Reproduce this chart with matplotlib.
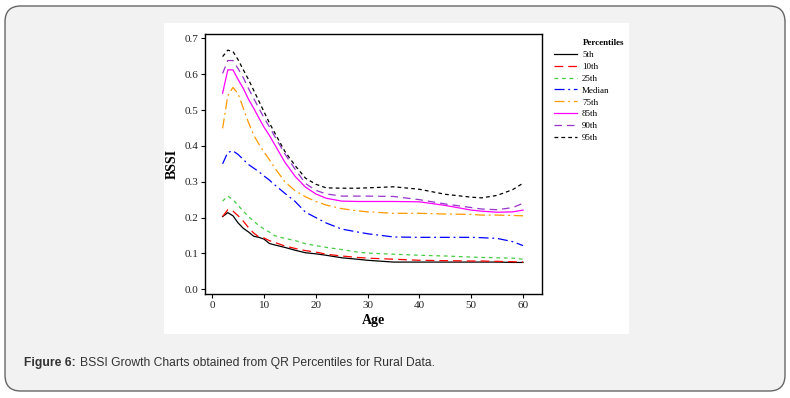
import numpy as np
import matplotlib
matplotlib.use('Agg')
import matplotlib.pyplot as plt
from matplotlib.patches import FancyBboxPatch, Rectangle

# ages
age = [2, 3, 4, 5, 6, 7, 8, 9, 10, 11, 12, 14, 16, 18, 20, 22, 25, 28, 30, 35, 40, 45, 50, 52, 55, 58, 60]

p5 = [0.203, 0.214, 0.205, 0.185, 0.170, 0.160, 0.148, 0.145, 0.140, 0.128, 0.124, 0.117, 0.109, 0.102, 0.099,
      0.095, 0.088, 0.084, 0.081, 0.076, 0.076, 0.076, 0.076, 0.076, 0.076, 0.075, 0.075]
p10 = [0.203, 0.222, 0.218, 0.205, 0.190, 0.172, 0.157, 0.146, 0.143, 0.136, 0.131, 0.121, 0.114, 0.108, 0.104,
       0.098, 0.093, 0.089, 0.087, 0.084, 0.081, 0.080, 0.079, 0.079, 0.078, 0.077, 0.076]
p25 = [0.246, 0.260, 0.250, 0.234, 0.218, 0.203, 0.190, 0.178, 0.168, 0.160, 0.150, 0.142, 0.136, 0.127, 0.122,
       0.117, 0.111, 0.104, 0.101, 0.098, 0.095, 0.093, 0.090, 0.089, 0.088, 0.087, 0.084]
p50 = [0.350, 0.382, 0.386, 0.376, 0.362, 0.348, 0.338, 0.328, 0.316, 0.305, 0.292, 0.268, 0.245, 0.215, 0.200,
       0.185, 0.168, 0.160, 0.155, 0.146, 0.145, 0.145, 0.145, 0.144, 0.142, 0.133, 0.122]
p75 = [0.449, 0.540, 0.563, 0.545, 0.505, 0.465, 0.430, 0.405, 0.383, 0.362, 0.340, 0.300, 0.275, 0.258, 0.245,
       0.235, 0.225, 0.219, 0.216, 0.212, 0.212, 0.210, 0.209, 0.207, 0.207, 0.206, 0.205]
p85 = [0.547, 0.612, 0.612, 0.585, 0.560, 0.530, 0.505, 0.478, 0.452, 0.430, 0.405, 0.355, 0.315, 0.285, 0.266,
       0.254, 0.246, 0.245, 0.245, 0.245, 0.244, 0.234, 0.221, 0.218, 0.215, 0.216, 0.221]
p90 = [0.602, 0.638, 0.638, 0.615, 0.590, 0.560, 0.532, 0.505, 0.478, 0.454, 0.428, 0.378, 0.335, 0.295, 0.276,
       0.266, 0.260, 0.260, 0.260, 0.259, 0.250, 0.238, 0.228, 0.224, 0.222, 0.228, 0.240]
p95 = [0.649, 0.667, 0.663, 0.640, 0.612, 0.585, 0.555, 0.525, 0.495, 0.465, 0.438, 0.385, 0.345, 0.310, 0.293,
       0.283, 0.282, 0.282, 0.283, 0.286, 0.279, 0.265, 0.257, 0.255, 0.262, 0.278, 0.296]

labels = ['5th', '10th', '25th', 'Median', '75th', '85th', '90th', '95th']
series = [p5, p10, p25, p50, p75, p85, p90, p95]
colors = ['black', '#ff0000', '#44cc44', '#0000ff', '#ff9900', '#ff00ff', '#9933cc', 'black']
styles = ['-', (0, (7, 4)), (0, (3, 3)), (0, (8, 3, 1.5, 3)), (0, (8, 3, 1.5, 3)), '-', (0, (6, 4)), (0, (3, 2.5))]

fig = plt.figure(figsize=(7.9, 3.98), dpi=100)
fig.patch.set_facecolor('white')

# page card and white chart panel (behind the axes)
card = FancyBboxPatch((5 / 790, 7 / 398), 780 / 790, 385 / 398,
                      boxstyle='round,pad=0,rounding_size=0.02', transform=fig.transFigure,
                      facecolor='#f2f2f2', edgecolor='#666666', linewidth=1.0, mutation_aspect=2.0,
                      zorder=-2)
fig.patches.append(card)
panel = Rectangle((164 / 790, 1 - 334 / 398), 465 / 790, 311 / 398, transform=fig.transFigure,
                  facecolor='white', edgecolor='none', zorder=-1)
fig.patches.append(panel)

ax = fig.add_axes([205 / 790, 1 - 294 / 398, 336.7 / 790, 260 / 398])
ax.set_zorder(2)
ax.set_facecolor('white')
for vals, lab, c, ls in zip(series, labels, colors, styles):
    ax.plot(age, vals, color=c, linestyle=ls, linewidth=0.9, label=lab)

ax.set_xlim(-1.4, 63.6)
ax.set_ylim(-0.013, 0.712)
ax.set_xticks([0, 10, 20, 30, 40, 50, 60])
ax.set_yticks(np.arange(0, 0.71, 0.1))
ax.set_yticklabels(['%.1f' % v for v in np.arange(0, 0.71, 0.1)])
for s in ax.spines.values():
    s.set_linewidth(1.0)
    s.set_color('black')
ax.tick_params(direction='out', length=3, width=0.8, labelsize=8, colors='black', pad=2)
for t in ax.get_xticklabels() + ax.get_yticklabels():
    t.set_family('Liberation Serif')
    t.set_color('#222222')
ax.set_xlabel('Age', family='Liberation Serif', fontweight='bold', fontsize=10, labelpad=3)
ax.set_ylabel('BSSI', family='Liberation Serif', fontweight='bold', fontsize=10, labelpad=4)

# legend, title drawn separately so it lines up with the labels
handles, labs = ax.get_legend_handles_labels()
leg = fig.legend(handles, labs, loc='upper left', bbox_to_anchor=(554 / 790, 1 - 50.5 / 398),
                 frameon=False, prop={'family': 'Liberation Serif', 'size': 6.5},
                 handlelength=2.55, labelspacing=0.4, handletextpad=0.55, borderpad=0,
                 borderaxespad=0)
fig.text(583 / 790, 1 - 43 / 398, 'Percentiles', family='Liberation Serif', fontweight='bold',
         fontsize=6.5, va='center', ha='left')

fig.text(24 / 790, 1 - 363 / 398, 'Figure 6:', family='Liberation Sans', fontweight='bold',
         fontsize=8.7, color='#333333', va='center', ha='left')
fig.text(80 / 790, 1 - 363 / 398, 'BSSI Growth Charts obtained from QR Percentiles for Rural Data.',
         family='Liberation Sans', fontsize=8.7, color='#333333', va='center', ha='left')

fig.savefig('out.png', dpi=100, facecolor=fig.get_facecolor())
